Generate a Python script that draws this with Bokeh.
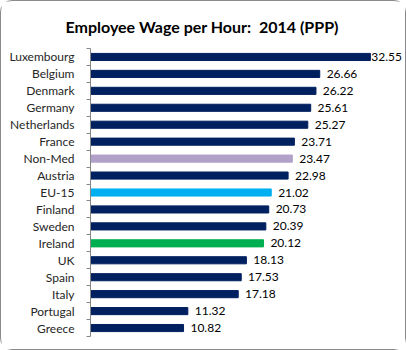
from bokeh.plotting import figure
from bokeh.models import ColumnDataSource, Range1d, FixedTicker
from bokeh.core.properties import value
from bokeh.embed import file_html
from bokeh.resources import INLINE
import numpy as np

countries = ["Luxembourg", "Belgium", "Denmark", "Germany", "Netherlands", "France",
             "Non-Med", "Austria", "EU-15", "Finland", "Sweden", "Ireland", "UK",
             "Spain", "Italy", "Portugal", "Greece"]
wages = [32.55, 26.66, 26.22, 25.61, 25.27, 23.71, 23.47, 22.98, 21.02, 20.73,
         20.39, 20.12, 18.13, 17.53, 17.18, 11.32, 10.82]
highlight = {"Non-Med": "#B1A0C7", "EU-15": "#00B0F0", "Ireland": "#00B050"}
base_color = "#002060"

n = len(countries)
ypos = [n - i for i in range(n)]
colors = [highlight.get(c, base_color) for c in countries]
labels = ["%.2f" % w for w in wages]
XMAX = 36.4
label_x = [min(w + 0.8, XMAX - 3.75) for w in wages]

src = ColumnDataSource(dict(y=ypos, w=wages, color=colors, lab=labels, lx=label_x))

p = figure(width=406, height=350, output_backend="svg", toolbar_location=None,
           x_range=Range1d(0, XMAX), y_range=Range1d(0.5, n + 0.5),
           min_border_left=89, min_border_right=4, min_border_top=47, min_border_bottom=15,
           title="Employee Wage per Hour:\u00a0 2014 (PPP)")
p.title.align = "left"
p.title.text_font = "Lato"
p.title.text_font_size = "16px"
p.title.text_font_style = "bold"
p.title.text_color = "#000000"
p.title.offset = -25
p.title.standoff = 25

p.hbar(y="y", left=0, right="w", height=0.42, color="color", source=src)
p.text(x="lx", y="y", text="lab", source=src, text_font=value("Lato"),
       text_font_size="12px", text_baseline="middle", text_align="left",
       text_color="#000000")

p.xaxis.visible = False
p.grid.visible = False
p.outline_line_color = None

ya = p.yaxis[0]
ya.ticker = FixedTicker(ticks=ypos, minor_ticks=[k + 0.5 for k in range(n + 1)])
ya.major_label_overrides = {y: c for y, c in zip(ypos, countries)}
ya.major_tick_line_color = None
ya.major_tick_out = 0
ya.major_tick_in = 0
ya.minor_tick_out = 4
ya.minor_tick_in = 0
ya.minor_tick_line_color = "#868686"
ya.axis_line_color = "#868686"
ya.major_label_standoff = 12
ya.major_label_text_font = "Lato"
ya.major_label_text_font_size = "12px"
ya.major_label_text_color = "#262626"

p.styles = {"border": "1px solid #8a8a8a", "border-radius": "12px", "box-sizing": "border-box"}

open("out.html", "w").write(file_html(p, INLINE))
